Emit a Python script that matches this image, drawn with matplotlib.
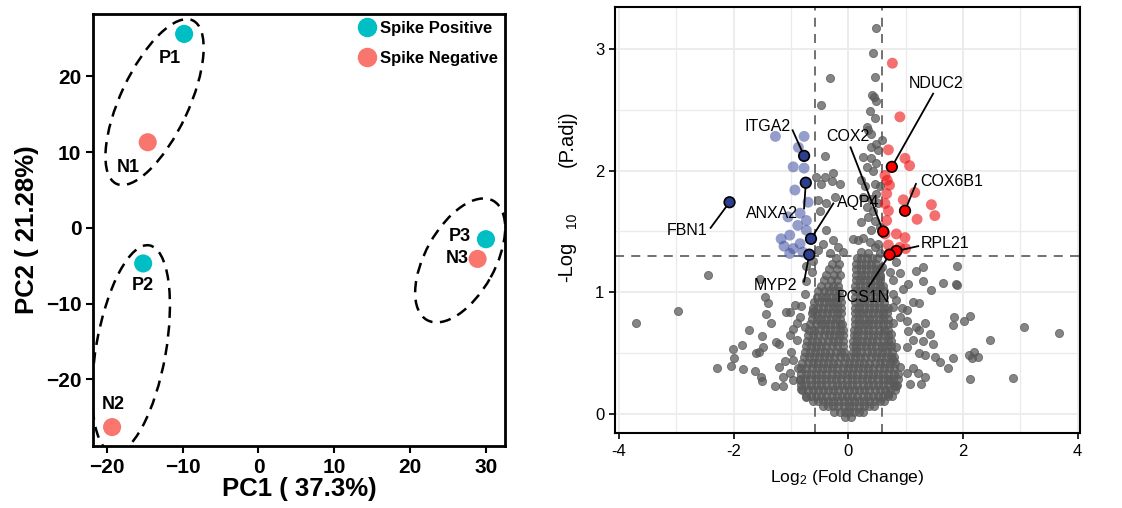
import matplotlib
matplotlib.use('Agg')
import matplotlib.pyplot as plt
from matplotlib.patches import Ellipse
from matplotlib.lines import Line2D
from matplotlib.ticker import FixedLocator, FuncFormatter

plt.rcParams['font.family'] = ['Liberation Sans', 'DejaVu Sans']
plt.rcParams['mathtext.fontset'] = 'custom'
plt.rcParams['mathtext.rm'] = 'Liberation Sans'
plt.rcParams['mathtext.it'] = 'Liberation Sans'

# ---------------- PCA data ----------------
samples = ['P1', 'N1', 'P2', 'N2', 'P3', 'N3']
pc1 = [-9.8, -14.6, -15.2, -19.3, 30.0, 28.9]
pc2 = [25.6, 11.3, -4.7, -26.3, -1.5, -4.1]
group = ['pos', 'neg', 'pos', 'neg', 'pos', 'neg']
# ellipses: centre x, centre y, width, height, angle
ell_cx = [-13.7, -16.8, 26.6]
ell_cy = [16.6, -16.0, -4.3]
ell_w = [23.8, 27.8, 18.0]
ell_h = [9.0, 9.2, 9.2]
ell_ang = [65, 80, 61]

# ---------------- volcano data ----------------
# dense core of the cloud, read row by row (y, x values)
core_rows = [
    (-0.02, [-0.05, 0.04]),
    (0.02, [-0.24, -0.15, -0.06, 0.02, 0.10, 0.18, 0.26]),
    (0.065, [-0.44, -0.35, -0.26, -0.17, -0.08, 0.01, 0.09, 0.18, 0.27, 0.36, 0.45]),
    (0.11, [-0.62, -0.53, -0.44, -0.35, -0.26, -0.17, -0.08, 0.01, 0.10, 0.19, 0.28, 0.37, 0.46, 0.55, 0.63]),
    (0.155, [-0.74, -0.65, -0.56, -0.47, -0.38, -0.29, -0.20, -0.11, -0.02, 0.07, 0.16, 0.25, 0.34, 0.43, 0.52, 0.61, 0.70, 0.77]),
    (0.20, [-0.80, -0.71, -0.62, -0.53, -0.44, -0.35, -0.26, -0.17, -0.08, 0.01, 0.10, 0.19, 0.28, 0.37, 0.46, 0.55, 0.64, 0.73, 0.81]),
    (0.245, [-0.83, -0.74, -0.65, -0.56, -0.47, -0.38, -0.29, -0.20, -0.11, -0.02, 0.07, 0.16, 0.25, 0.34, 0.43, 0.52, 0.61, 0.70, 0.79, 0.85]),
    (0.29, [-0.84, -0.75, -0.66, -0.57, -0.48, -0.39, -0.30, -0.21, -0.12, -0.03, 0.06, 0.15, 0.24, 0.33, 0.42, 0.51, 0.60, 0.69, 0.78, 0.86]),
    (0.335, [-0.83, -0.74, -0.65, -0.56, -0.47, -0.38, -0.29, -0.20, -0.11, -0.02, 0.07, 0.16, 0.25, 0.34, 0.43, 0.52, 0.61, 0.70, 0.79, 0.86]),
    (0.38, [-0.82, -0.73, -0.64, -0.55, -0.46, -0.37, -0.28, -0.19, -0.10, -0.01, 0.08, 0.17, 0.26, 0.35, 0.44, 0.53, 0.62, 0.71, 0.80]),
    (0.425, [-0.80, -0.71, -0.62, -0.53, -0.44, -0.35, -0.26, -0.17, -0.08, 0.01, 0.10, 0.19, 0.28, 0.37, 0.46, 0.55, 0.64, 0.73, 0.81]),
    (0.47, [-0.78, -0.69, -0.60, -0.51, -0.42, -0.33, -0.24, -0.15, -0.06, 0.03, 0.12, 0.21, 0.30, 0.39, 0.48, 0.57, 0.66, 0.75, 0.80]),
    (0.515, [-0.76, -0.67, -0.58, -0.49, -0.40, -0.31, -0.22, -0.13, -0.08, 0.08, 0.14, 0.23, 0.32, 0.41, 0.50, 0.59, 0.68, 0.77]),
    (0.56, [-0.74, -0.65, -0.56, -0.47, -0.38, -0.29, -0.20, -0.10, 0.09, 0.13, 0.22, 0.31, 0.40, 0.49, 0.58, 0.67, 0.75]),
    (0.605, [-0.72, -0.63, -0.54, -0.45, -0.36, -0.27, -0.18, -0.10, 0.09, 0.15, 0.24, 0.33, 0.42, 0.51, 0.60, 0.69, 0.75]),
    (0.65, [-0.70, -0.61, -0.52, -0.43, -0.34, -0.25, -0.16, -0.10, 0.10, 0.16, 0.25, 0.34, 0.43, 0.52, 0.61, 0.70]),
    (0.695, [-0.68, -0.59, -0.50, -0.41, -0.32, -0.23, -0.15, -0.10, 0.10, 0.17, 0.26, 0.35, 0.44, 0.53, 0.62, 0.70]),
    (0.74, [-0.66, -0.57, -0.48, -0.40, -0.31, -0.23, -0.15, -0.11, 0.11, 0.18, 0.27, 0.35, 0.44, 0.52, 0.61, 0.69]),
    (0.785, [-0.64, -0.55, -0.47, -0.38, -0.30, -0.21, -0.14, 0.11, 0.19, 0.27, 0.36, 0.44, 0.53, 0.61, 0.69]),
    (0.83, [-0.63, -0.54, -0.46, -0.37, -0.29, -0.20, -0.13, 0.11, 0.18, 0.26, 0.35, 0.43, 0.52, 0.60, 0.68]),
    (0.875, [-0.61, -0.53, -0.44, -0.36, -0.27, -0.20, -0.13, 0.11, 0.19, 0.28, 0.36, 0.45, 0.53, 0.62, 0.69]),
    (0.92, [-0.59, -0.51, -0.42, -0.34, -0.26, -0.19, -0.12, 0.12, 0.20, 0.28, 0.37, 0.45, 0.54, 0.62]),
    (0.965, [-0.55, -0.46, -0.38, -0.30, -0.22, -0.14, 0.12, 0.21, 0.29, 0.38, 0.46, 0.55, 0.63]),
    (1.01, [-0.52, -0.43, -0.33, -0.24, -0.16, 0.12, 0.20, 0.29, 0.37, 0.46, 0.54, 0.62]),
    (1.055, [-0.47, -0.36, -0.27, -0.18, 0.12, 0.21, 0.29, 0.38, 0.46, 0.55, 0.61]),
    (1.10, [-0.42, -0.30, -0.20, 0.13, 0.21, 0.30, 0.38, 0.47, 0.55]),
    (1.145, [-0.38, -0.24, -0.15, 0.13, 0.22, 0.30, 0.39, 0.47, 0.56]),
    (1.19, [-0.33, -0.20, 0.14, 0.22, 0.31, 0.39, 0.48, 0.56]),
    (1.235, [-0.28, -0.16, 0.14, 0.23, 0.31, 0.40, 0.48]),
    (1.28, [-0.22, 0.15, 0.23, 0.32, 0.41, 0.50]),
]

# scattered non-significant points
grey_x = [-3.70, -2.97, -2.45, -2.29, -2.05, -2.01, -2.00, -1.86, -1.84, -1.73,
          -1.63, -1.55, -1.54, -1.52, -1.51, -1.46, -1.40, -1.43, -1.34, -1.50,
          -1.49, -1.60, -1.28, -1.26, -1.20, -1.13, -1.08, -1.02, -1.02, -0.96,
          -0.93, -0.90, -0.89, -0.82, -0.85, -0.76, -0.99, -0.96, -1.02, -0.88,
          -0.85, -1.20, -1.11, -1.14, -0.96, -0.82, -0.73, -0.76, -0.73, -0.64,
          -0.73, -0.61, -0.61,
          1.31, 1.19, 1.89, 1.66, 1.88, 1.89, 1.45, 1.31, 1.04, 0.96,
          1.13, 1.24, 1.02, 0.93, 1.02, 1.19, 1.33, 1.24, 1.42, 1.04,
          0.78, 0.90, 1.31, 1.48, 1.13, 1.02, 1.24, 1.33, 1.51, 1.60,
          1.74, 1.83, 1.13, 1.22, 1.33, 1.27, 1.02, 1.07, 1.83, 1.85,
          2.02, 2.12, 2.47, 2.10, 2.19, 2.16, 2.27, 2.12, 2.87, 3.06,
          3.67, 0.78, 0.84, 0.78, 0.75, 0.84, 0.78, 0.90, 0.72, 0.84,
          0.70, 0.55, 0.90, 0.78, 0.72, 0.58, 0.84,
          # above the p-value line
          0.49, 0.43, -0.31, 0.46, 0.42, 0.45, 0.49, -0.47, 0.38, 0.46,
          0.32, 0.35, 0.40, 0.58, 0.49, 0.40, 0.52, -0.40, 0.26, 0.40,
          0.49, 0.32, 0.43, -0.56, -0.41, -0.27, -0.47, -0.29, -0.15, 0.23,
          0.29, 0.46, 0.55, -0.23, 0.26, 0.40, 0.49, -0.52, -0.38, -0.50,
          0.32, 0.43, 0.52, -0.38, 0.23, 0.35, 0.46, 0.40, 0.55, -0.44,
          -0.27, -0.17, -0.09, 0.08, 0.17, 0.26, 0.38, 0.46, 0.52, 0.23,
          0.35, 0.55, -0.32, -0.52]
grey_y = [0.75, 0.85, 1.14, 0.38, 0.40, 0.54, 0.46, 0.57, 0.37, 0.69,
          0.36, 0.51, 1.11, 0.31, 0.27, 0.96, 0.91, 0.82, 0.75, 0.64,
          0.55, 0.50, 0.23, 0.59, 0.58, 0.23, 0.84, 0.65, 0.84, 0.70,
          0.90, 0.61, 0.75, 0.89, 0.80, 0.72, 0.51, 0.45, 0.34, 0.38,
          0.28, 0.39, 0.44, 0.31, 0.28, 0.21, 0.14, 0.99, 1.09, 1.17,
          1.22, 1.26, 0.85,
          1.21, 1.18, 1.22, 1.08, 1.07, 1.06, 1.02, 1.09, 1.07, 1.03,
          0.92, 0.91, 0.86, 0.87, 0.77, 0.72, 0.75, 0.69, 0.66, 0.68,
          0.75, 0.80, 0.60, 0.58, 0.61, 0.55, 0.50, 0.49, 0.47, 0.43,
          0.38, 0.46, 0.38, 0.34, 0.31, 0.25, 0.34, 0.25, 0.73, 0.80,
          0.77, 0.81, 0.61, 0.49, 0.51, 0.46, 0.47, 0.29, 0.30, 0.72,
          0.67, 0.99, 0.94, 0.88, 0.66, 0.55, 0.45, 0.39, 0.28, 0.23,
          0.17, 1.13, 1.16, 1.10, 1.17, 1.21, 1.25,
          3.17, 2.96, 2.76, 2.77, 2.62, 2.60, 2.57, 2.54, 2.49, 2.43,
          2.36, 2.33, 2.30, 2.25, 2.22, 2.19, 2.17, 2.12, 2.11, 2.10,
          2.06, 2.03, 2.00, 1.95, 1.95, 1.98, 1.89, 1.91, 1.89, 1.92,
          1.87, 1.89, 1.87, 1.78, 1.78, 1.77, 1.81, 1.76, 1.73, 1.67,
          1.70, 1.67, 1.73, 1.51, 1.58, 1.62, 1.59, 1.51, 1.54, 1.40,
          1.43, 1.37, 1.33, 1.44, 1.43, 1.45, 1.41, 1.37, 1.40, 1.33,
          1.32, 1.32, 1.32, 1.35]

down_x = [-1.27, -0.77, -0.87, -0.96, -0.77, -0.93, -0.70, -0.73, -0.84, -1.17,
          -1.02, -0.96, -0.84, -0.73, -0.79, -1.02, -1.05, -0.88, -1.12]
down_y = [2.28, 2.28, 2.19, 2.03, 2.02, 1.84, 1.74, 1.59, 1.65, 1.44,
          1.47, 1.36, 1.40, 1.51, 1.33, 1.32, 1.62, 1.55, 1.38]
up_x = [0.77, 0.90, 0.70, 0.99, 1.07, 0.64, 1.16, 0.67, 0.64, 0.70,
        0.96, 1.45, 1.51, 1.20, 0.67, 0.84, 0.99, 0.70, 0.90, 1.00,
        0.64, 0.78, 0.72, 0.68]
up_y = [2.88, 2.44, 2.17, 2.10, 2.04, 1.96, 1.82, 1.81, 1.73, 1.67,
        1.76, 1.72, 1.63, 1.60, 1.59, 1.48, 1.45, 1.39, 1.37, 1.36,
        1.48, 1.32, 1.88, 1.92]

genes = ['FBN1', 'ITGA2', 'ANXA2', 'AQP4', 'MYP2',
         'NDUC2', 'COX6B1', 'COX2', 'RPL21', 'PCS1N']
gene_x = [-2.07, -0.77, -0.74, -0.65, -0.68, 0.76, 0.99, 0.61, 0.84, 0.72]
gene_y = [1.74, 2.12, 1.90, 1.44, 1.31, 2.03, 1.67, 1.50, 1.34, 1.31]

# label layout (leader line end, text anchor)
line_end = [(-2.40, 1.53), (-0.97, 2.33), (-0.77, 1.69), (-0.26, 1.73), (-0.77, 1.09),
            (1.48, 2.63), (1.18, 1.89), (0.04, 2.19), (1.22, 1.38), (0.36, 1.05)]
text_pos = [(-2.46, 1.51, 'right'), (-1.01, 2.36, 'right'), (-1.33, 1.65, 'center'),
            (-0.20, 1.74, 'left'), (-1.26, 1.06, 'center'), (1.06, 2.71, 'left'),
            (1.26, 1.91, 'left'), (0.0, 2.28, 'center'), (1.27, 1.40, 'left'),
            (0.27, 0.96, 'center')]

fig = plt.figure(figsize=(11.22, 5.08), dpi=100)

# ======================= PCA panel =======================
ax1 = fig.add_axes([0.083, 0.122, 0.367, 0.850])
colors = {'pos': '#00BFC4', 'neg': '#F8766D'}
for x, y, g in zip(pc1, pc2, group):
    ax1.scatter(x, y, s=170, color=colors[g], edgecolors='none', zorder=3)

for cx, cy, w, h, a in zip(ell_cx, ell_cy, ell_w, ell_h, ell_ang):
    ax1.add_patch(Ellipse((cx, cy), w, h, angle=a, fill=False, ec='black',
                          lw=1.8, ls=(0, (4.5, 3)), zorder=2))

offsets = [(-10, -17.5), (-14, -18), (0, -15.6), (1, 16), (-19, 2), (-15, 0)]
for name, x, y, off in zip(samples, pc1, pc2, offsets):
    ax1.annotate(name, (x, y), xytext=off, textcoords='offset points',
                 ha='center', va='center', fontsize=13, fontweight='bold')

ax1.set_xlim(-21.8, 32.5)
ax1.set_ylim(-28.8, 28.2)
ax1.set_xticks([-20, -10, 0, 10, 20, 30])
ax1.set_yticks([-20, -10, 0, 10, 20])
ax1.tick_params(labelsize=15, width=1.5, length=5)
for lab in ax1.get_xticklabels() + ax1.get_yticklabels():
    lab.set_fontweight('bold')
for sp in ax1.spines.values():
    sp.set_linewidth(2)
ax1.set_xlabel('PC1 ( 37.3%)', fontsize=18.5, fontweight='bold', labelpad=0)
ax1.set_ylabel('PC2 ( 21.28%)', fontsize=18.5, fontweight='bold', labelpad=5)

handles = [Line2D([], [], marker='o', ls='none', color=colors['pos'], markersize=13),
           Line2D([], [], marker='o', ls='none', color=colors['neg'], markersize=13)]
ax1.legend(handles, ['Spike Positive', 'Spike Negative'], loc='upper right',
           frameon=False, prop={'weight': 'bold', 'size': 12}, handletextpad=0.2,
           labelspacing=0.9, borderaxespad=0.1, borderpad=0.3, handlelength=1.2)

# ======================= volcano panel =======================
ax2 = fig.add_axes([0.548, 0.147, 0.415, 0.839])
ax2.set_xlim(-4.07, 4.05)
ax2.set_ylim(-0.155, 3.34)

core_x = [x for y, xs in core_rows for x in xs]
core_y = [y for y, xs in core_rows for x in xs]
grey = '#5a5a5a'
ax2.scatter(core_x + grey_x, core_y + grey_y, s=34, color=grey, alpha=0.74,
            edgecolors=grey, linewidths=0.7, zorder=3)
ax2.scatter(down_x, down_y, s=62, color='#3F4FA0', alpha=0.55,
            edgecolors='none', zorder=4)
ax2.scatter(up_x, up_y, s=62, color='#EE1111', alpha=0.6,
            edgecolors='none', zorder=4)
gene_col = ['#2D3E8F'] * 5 + ['#FF0000'] * 5
ax2.scatter(gene_x, gene_y, s=58, color=gene_col, edgecolors='black',
            linewidths=1.2, zorder=6)

for gx, gy, (lx, ly), (tx, ty, ha), name in zip(gene_x, gene_y, line_end, text_pos, genes):
    ax2.plot([gx, lx], [gy, ly], color='black', lw=1.3, zorder=5)
    ax2.text(tx, ty, name, ha=ha, va='center', fontsize=11.5, zorder=7)

for v in (-0.585, 0.585):
    ax2.axvline(v, color='#666666', lw=1.3, ls=(0, (5, 4)), zorder=2)
ax2.axhline(1.301, color='#666666', lw=1.3, ls=(0, (5, 4)), zorder=2)

ax2.xaxis.set_major_locator(FixedLocator([-4, -2, 0, 2, 4]))
ax2.xaxis.set_minor_locator(FixedLocator([-3, -1, 1, 3]))
ax2.yaxis.set_major_locator(FixedLocator([0, 1, 2, 3]))
ax2.yaxis.set_minor_locator(FixedLocator([0.5, 1.5, 2.5]))
ax2.xaxis.set_major_formatter(FuncFormatter(lambda v, p: '%d' % v))
ax2.yaxis.set_major_formatter(FuncFormatter(lambda v, p: '%d' % v))
ax2.grid(which='major', color='#EBEBEB', lw=1.3, zorder=0)
ax2.grid(which='minor', color='#EBEBEB', lw=1.0, zorder=0)
ax2.set_axisbelow(True)
ax2.tick_params(which='major', labelsize=12, length=4, width=1.2, colors='black')
ax2.tick_params(which='minor', length=0)
for sp in ax2.spines.values():
    sp.set_linewidth(1.5)
ax2.set_xlabel(r'Log$_{\mathrm{2}}$ (Fold Change)', fontsize=12.6, labelpad=7)
# y title in three parts: -Log, subscript 10, (P.adj)
ax2.text(-0.103, 0.403, '-Log', rotation=90, ha='center', va='center',
         fontsize=14.5, transform=ax2.transAxes)
ax2.text(-0.093, 0.500, '10', rotation=90, ha='center', va='center',
         fontsize=10, transform=ax2.transAxes)
ax2.text(-0.103, 0.692, '(P.adj)', rotation=90, ha='center', va='center',
         fontsize=14.5, transform=ax2.transAxes)

fig.savefig('out.png', dpi=100)
